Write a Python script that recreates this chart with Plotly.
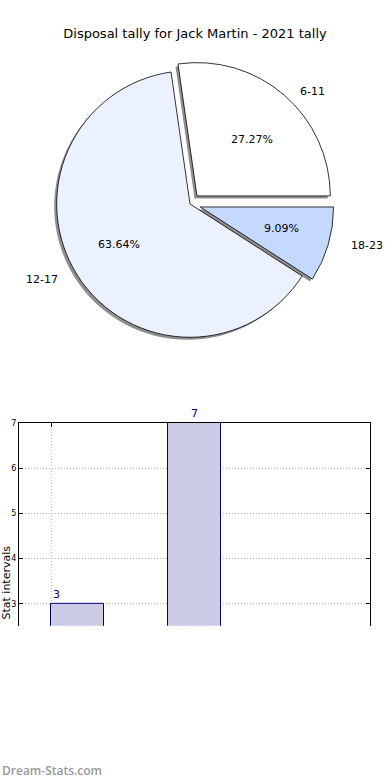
import math
import plotly.graph_objects as go

# ---------------- data ----------------
title_text = "Disposal tally for Jack Martin - 2021 tally"
categories = ["6-11", "12-17", "18-23"]
tallies = [3, 7, 1]
pie_colors = ["#FFFFFF", "#EBF1FE", "#C5D8FE"]
explode = [0.08, 0.0, 0.08]
bar_positions = [0, 1, 2]
y_ticks = [3, 4, 5, 6, 7]
y_title = "Stat intervals"
watermark = "Dream-Stats.com"

W, H = 390, 780
FONT = "DejaVu Sans"


def px_x(p):
    return p / W


def px_y(p):
    return 1 - p / H


fig = go.Figure()

# ---------------- pie ----------------
cx, cy, r = 190, 201, 134          # drawn (circular) pie
rx, ry = 140, 127                  # reference label geometry
half = r * (1 + max(explode))
total = sum(tallies)
rotation = 90 - 360 * tallies[0] / total


def dom(dx=0, dy=0):
    return dict(x=[px_x(cx - half + dx), px_x(cx + half + dx)],
                y=[px_y(cy + half + dy), px_y(cy - half + dy)])


common = dict(labels=categories, values=tallies, sort=False,
              direction="counterclockwise", rotation=rotation,
              pull=explode, showlegend=False, textinfo="none")

# shadow
fig.add_trace(go.Pie(**common, domain=dom(-2.5, 2.5),
                     marker=dict(colors=["#8f8f8f"] * len(tallies),
                                 line=dict(width=0)),
                     hoverinfo="skip"))
# main slices
fig.add_trace(go.Pie(**common, domain=dom(),
                     marker=dict(colors=pie_colors,
                                 line=dict(color="#000000", width=0.8))))

annotations = []
start = 0.0
for lab, v, ex in zip(categories, tallies, explode):
    frac = v / total
    mid = math.radians(360 * (start + frac / 2))
    start += frac
    c, s = math.cos(mid), math.sin(mid)
    ax_, ay_ = cx + ex * rx * c, cy - ex * ry * s
    # percentage inside (0.6 radius)
    annotations.append(dict(x=px_x(ax_ + 0.6 * rx * c),
                            y=px_y(ay_ - 0.6 * ry * s),
                            xref="paper", yref="paper",
                            text=f"{100 * frac:.2f}%", showarrow=False,
                            xanchor="center", yanchor="middle",
                            font=dict(family=FONT, size=11, color="#000000")))
    # category label outside (1.1 radius)
    annotations.append(dict(x=px_x(ax_ + 1.1 * rx * c),
                            y=px_y(ay_ - 1.1 * ry * s),
                            xref="paper", yref="paper",
                            text=lab, showarrow=False,
                            xanchor="left" if c > 0 else "right",
                            yanchor="middle",
                            font=dict(family=FONT, size=11, color="#000000")))

# ---------------- bars ----------------
bar_width = 0.45
fig.add_trace(go.Bar(x=bar_positions, y=tallies, width=bar_width, offset=0,
                     marker=dict(color="rgb(204,204,230)",
                                 line=dict(color="#000080", width=1)),
                     showlegend=False, hovertext=categories))

y_lo, y_hi = 2.516, 7
grid = dict(showgrid=True, gridcolor="#b8b8b8", griddash="1px,2px",
            gridwidth=1, zeroline=False)
fig.update_xaxes(domain=[px_x(19), px_x(370)], range=[-0.274, 2.726],
                 side="top", showline=True, linecolor="#000000", linewidth=1,
                 mirror=False, tickvals=[0], showticklabels=False,
                 ticks="inside", ticklen=4, tickcolor="#000000", **grid)
fig.update_yaxes(domain=[px_y(625), px_y(421)], range=[y_lo, y_hi],
                 showline=True, linecolor="#000000", linewidth=1,
                 mirror="ticks", tickvals=y_ticks, ticks="inside", ticklen=4,
                 tickcolor="#000000",
                 tickfont=dict(family=FONT, size=8, color="#000000"), **grid)

label_anchor = ["left", "center", "center"]
for pos, v, anc in zip(bar_positions, tallies, label_anchor):
    if v < y_lo:
        continue
    x = pos if anc == "left" else pos + bar_width / 2
    annotations.append(dict(x=x, y=v, xref="x", yref="y", text=str(v),
                            showarrow=False, xanchor=anc, yanchor="bottom",
                            yshift=1,
                            font=dict(family=FONT, size=11, color="#000080")))

annotations.append(dict(x=px_x(6.5), y=px_y(582), xref="paper", yref="paper",
                        text=y_title, textangle=-90, showarrow=False,
                        xanchor="center", yanchor="middle",
                        font=dict(family=FONT, size=11, color="#000000")))
annotations.append(dict(x=0, y=px_y(770), xref="paper", yref="paper",
                        text=watermark, showarrow=False, xanchor="left",
                        yanchor="middle",
                        font=dict(family="Open Sans", size=12, color="#9a9a9a",
                                  weight=600)))

fig.update_layout(
    width=W, height=H,
    margin=dict(l=0, r=0, t=0, b=0),
    paper_bgcolor="#ffffff", plot_bgcolor="#ffffff",
    title=dict(text=title_text, x=0.5, xanchor="center", y=px_y(30),
               yanchor="middle", yref="paper",
               font=dict(family=FONT, size=13, color="#000000")),
    annotations=annotations,
    bargap=0,
)

fig.write_html("out.html",
               config={"displayModeBar": False},
               post_script="document.body.style.margin='0';"
                           "document.body.style.overflow='hidden';")
